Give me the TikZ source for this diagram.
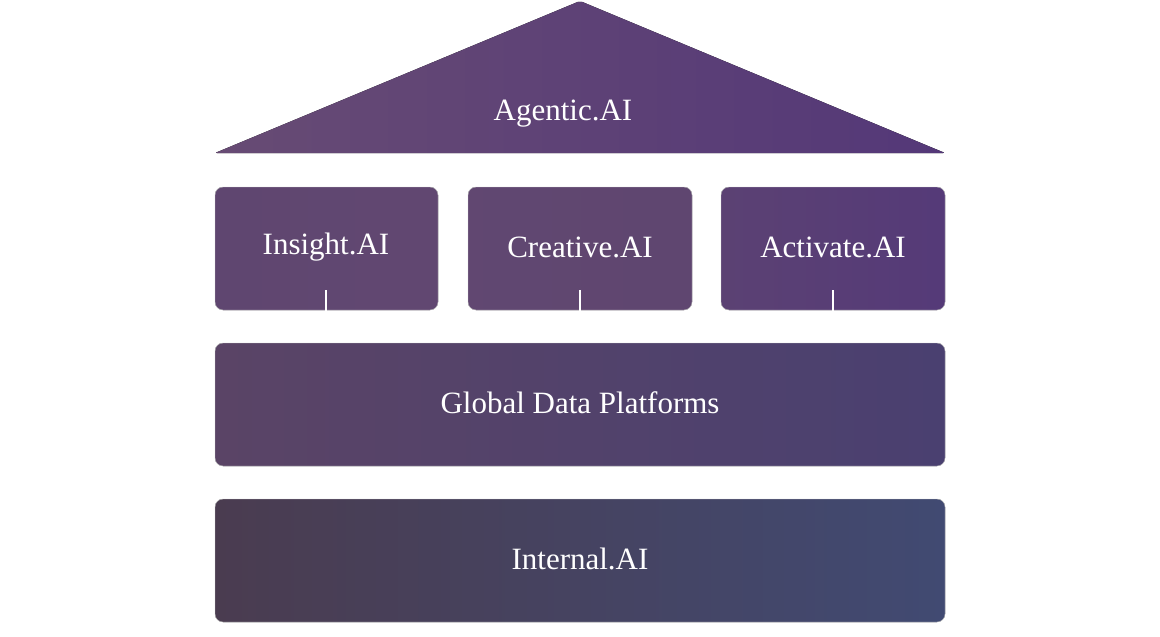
\documentclass[tikz,border=0pt]{standalone}
\usepackage{fontspec}
\setmainfont{Liberation Serif}
\begin{document}
\begin{tikzpicture}[x=1pt,y=-1pt,
  blk/.style={rounded corners=8pt,draw=white!80!black,line width=0.4pt},
  lbl/.style={text=white,font=\fontsize{31}{36}\selectfont},
  tick/.style={white,line width=2.5pt}]
\definecolor{rA}{HTML}{674B74}\definecolor{rB}{HTML}{543878}
\definecolor{bA}{HTML}{5F4670}\definecolor{bB}{HTML}{553A78}
\definecolor{gA}{HTML}{5A4466}\definecolor{gB}{HTML}{4A4070}
\definecolor{iA}{HTML}{4A3C50}\definecolor{iB}{HTML}{414A72}
\useasboundingbox (0,0) rectangle (1160,637);
\fill[left color=rA,right color=rB,rounded corners=2pt] (215,153) -- (580,1) -- (945,153) -- cycle;
\node[lbl] (ag) at (563,114) {Agentic.AI};
\fill[blk,left color=bA,right color=bA!70!rA] (215,187) rectangle (438,310);
\fill[blk,left color=bA!80!rA,right color=bA] (468,187) rectangle (692,310);
\fill[blk,left color=bA!60!bB,right color=bB] (721,187) rectangle (945,310);
\node[lbl] (ins) at (326,247) {Insight.AI};
\node[lbl] (cre) at (580,247) {Creative.AI};
\node[lbl] (act) at (833,247) {Activate.AI};
\coordinate (t1) at (326,290);\coordinate (t1b) at (326,311);
\coordinate (t2) at (580,290);\coordinate (t2b) at (580,311);
\coordinate (t3) at (833,290);\coordinate (t3b) at (833,311);
\draw[tick] (t1) -- (t1b); \draw[tick] (t2) -- (t2b); \draw[tick] (t3) -- (t3b);
\fill[blk,left color=gA,right color=gB] (215,343) rectangle (945,466);
\node[lbl] (gdp) at (580,403) {Global Data Platforms};
\fill[blk,left color=iA,right color=iB] (215,499) rectangle (945,622);
\node[lbl] (int) at (580,559) {Internal.AI};
\end{tikzpicture}
\end{document}
